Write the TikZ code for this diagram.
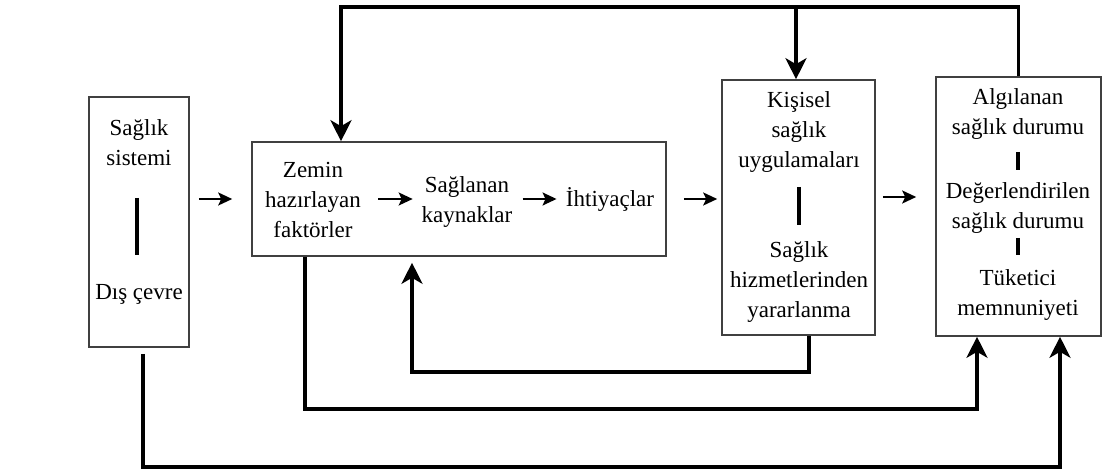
\documentclass[tikz,border=0pt]{standalone}
\usepackage{fontspec}
\setmainfont{Liberation Serif}
\usetikzlibrary{arrows.meta}
\begin{document}
\begin{tikzpicture}[x=0.5pt,y=-0.5pt,
  box/.style={draw=black!75, line width=0.8pt, inner sep=0pt},
  txt/.style={font=\fontsize{11.5}{15}\selectfont, align=center, inner sep=0pt},
  big/.style={line width=1.7pt, -{Stealth[length=10.5pt,width=10.5pt,inset=3pt]}},
  small/.style={line width=1pt, -{Stealth[length=7pt,width=6.5pt,inset=1.5pt]}},
  bar/.style={line width=1.6pt}]
\useasboundingbox (0,0) rectangle (1103,475);
% boxes
\node[box, minimum width=50pt, minimum height=125pt] (L) at (139,222) {};
\node[box, minimum width=207pt, minimum height=57pt] (M) at (459,199) {};
\node[box, minimum width=76.5pt, minimum height=127.5pt] (K) at (798.5,207.5) {};
\node[box, minimum width=82.5pt, minimum height=129.5pt] (R) at (1018.5,206.5) {};
% texts
\node[txt] (ls) at (139,143) {Sağlık\\sistemi};
\node[txt] (ld) at (139,294) {Dış çevre};
\node[txt] (zemin) at (313,200) {Zemin\\hazırlayan\\faktörler};
\node[txt] (sag) at (467,202) {Sağlanan\\kaynaklar};
\node[txt] (iht) at (610,199) {İhtiyaçlar};
\node[txt] (kis) at (799,132) {Kişisel\\sağlık\\uygulamaları};
\node[txt] (hiz) at (799,282) {Sağlık\\hizmetlerinden\\yararlanma};
\node[txt] (alg) at (1018,114) {Algılanan\\sağlık durumu};
\node[txt] (deg) at (1018,208) {Değerlendirilen\\sağlık durumu};
\node[txt] (tuk) at (1018,295) {Tüketici\\memnuniyeti};
% bars
\draw[bar] (137,198) -- (137,255);
\draw[bar] (799,187) -- (799,225);
\draw[bar] (1018,152) -- (1018,170);
\draw[bar] (1018,238) -- (1018,255);
% small arrows
\draw[small, shorten <=4.5pt, shorten >=9.5pt] (L.east |- M.west) -- (M.west);
\draw[small, shorten <=8.5pt, shorten >=4.3pt] (zemin.east |- M.center) -- (sag.west |- M.center);
\draw[small, shorten <=5pt, shorten >=4.5pt] (sag.east |- M.center) -- (iht.west |- M.center);
\draw[small, shorten <=8.5pt, shorten >=2pt] (M.east) -- (K.west |- M.east);
\draw[small, shorten <=3.5pt, shorten >=9.5pt] (K.east |- 0,197) -- (R.west |- 0,197);
% top feedback
\coordinate (T1) at (341,7);
\coordinate (T3) at (796,7);
\draw[big] (R.north) |- (T1) -- (M.north -| T1);
\draw[big] (T3) -- (K.north -| T3);
% bottom feedbacks
\coordinate (B1a) at (809,372);
\coordinate (B1b) at (412,372);
\draw[big, shorten >=3pt] (K.south -| B1a) -- (B1a) -- (B1b) -- (M.south -| B1b);
\coordinate (B2a) at (305,409);
\coordinate (B2b) at (977,409);
\draw[big] (M.south -| B2a) -- (B2a) -- (B2b) -- (R.south -| B2b);
\coordinate (B3a) at (143,467);
\coordinate (B3b) at (1060,467);
\draw[big, shorten <=3pt] (L.south -| B3a) -- (B3a) -- (B3b) -- (R.south -| B3b);
\end{tikzpicture}
\end{document}
